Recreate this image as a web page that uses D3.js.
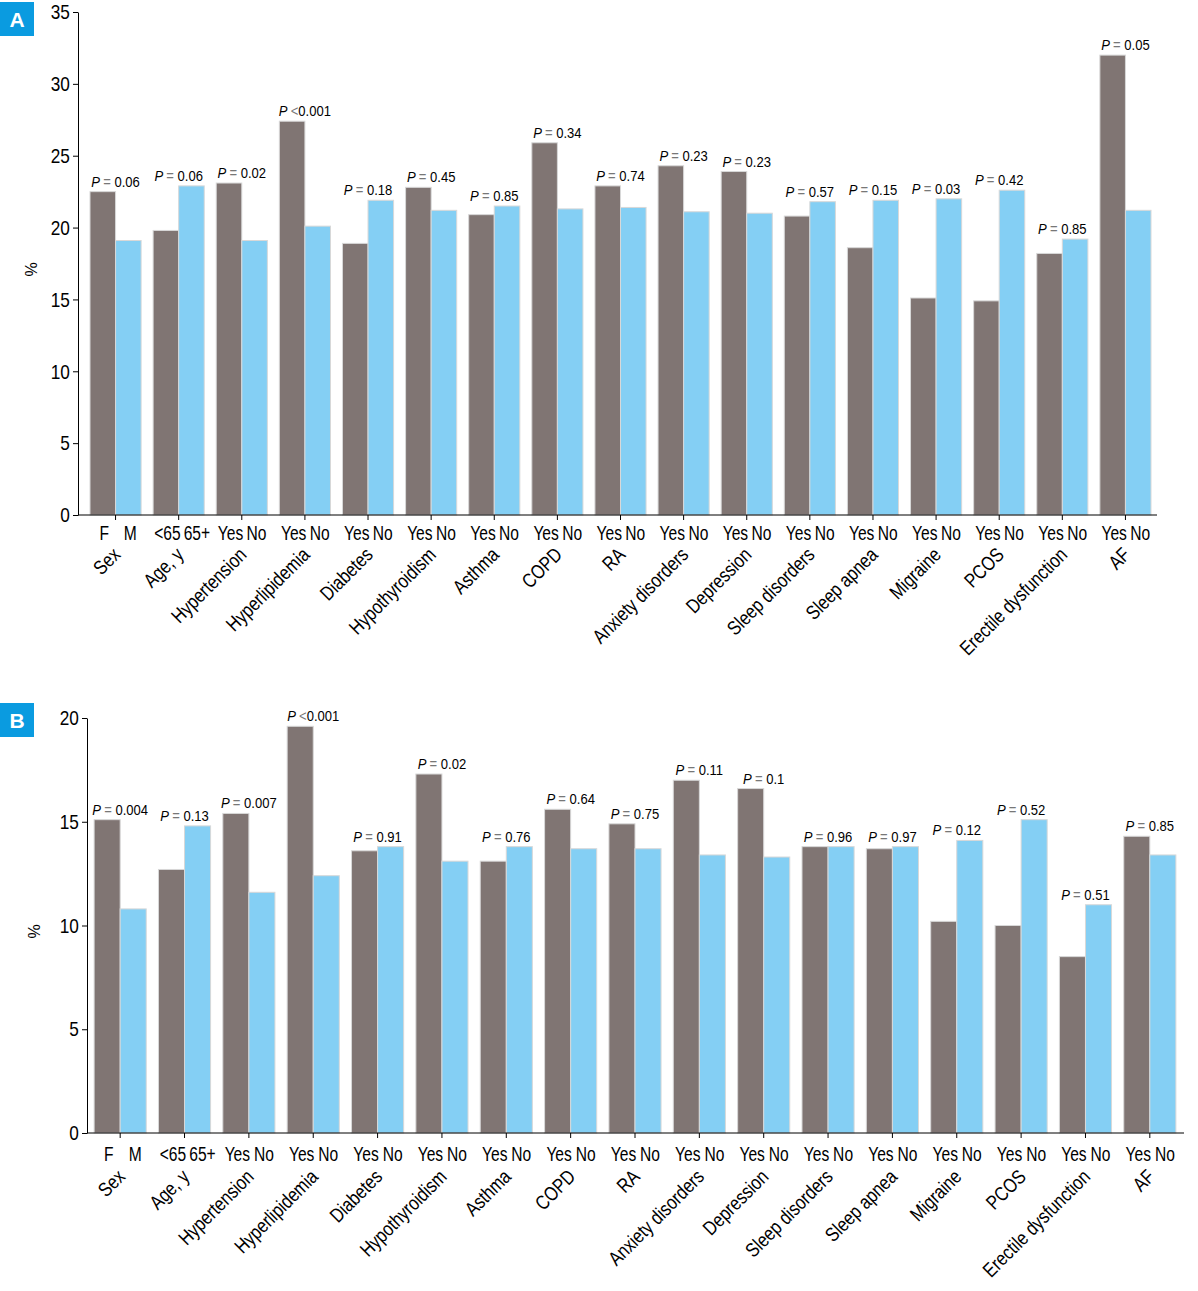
<!DOCTYPE html>
<html>
<head>
<meta charset="utf-8">
<script src="https://cdn.jsdelivr.net/npm/d3@7"></script>
<style>
  body { margin: 0; background: #fff; }
  svg { font-family: "Liberation Sans", Arial, sans-serif; }
  .axis text { font-size: 21px; fill: #000; }
  .axis path, .axis line { stroke: #000; }
</style>
</head>
<body>
<div id="chart"></div>
<script>
// categories and level labels (shared by both panels)
const categories = ["Sex", "Age, y", "Hypertension", "Hyperlipidemia", "Diabetes", "Hypothyroidism",
  "Asthma", "COPD", "RA", "Anxiety disorders", "Depression", "Sleep disorders", "Sleep apnea",
  "Migraine", "PCOS", "Erectile dysfunction", "AF"];
const levelsFirst  = ["F", "<65", "Yes", "Yes", "Yes", "Yes", "Yes", "Yes", "Yes", "Yes", "Yes", "Yes", "Yes", "Yes", "Yes", "Yes", "Yes"];
const levelsSecond = ["M", "65+", "No", "No", "No", "No", "No", "No", "No", "No", "No", "No", "No", "No", "No", "No", "No"];

// panel A
const valuesA1 = [22.5, 19.8, 23.1, 27.4, 18.9, 22.8, 20.9, 25.9, 22.9, 24.3, 23.9, 20.8, 18.6, 15.1, 14.9, 18.2, 32.0];
const valuesA2 = [19.1, 22.9, 19.1, 20.1, 21.9, 21.2, 21.5, 21.3, 21.4, 21.1, 21.0, 21.8, 21.9, 22.0, 22.6, 19.2, 21.2];
const pA = ["= 0.06", "= 0.06", "= 0.02", "<0.001", "= 0.18", "= 0.45", "= 0.85", "= 0.34", "= 0.74",
  "= 0.23", "= 0.23", "= 0.57", "= 0.15", "= 0.03", "= 0.42", "= 0.85", "= 0.05"];
const ticksA = [0, 5, 10, 15, 20, 25, 30, 35];

// panel B
const valuesB1 = [15.1, 12.7, 15.4, 19.6, 13.6, 17.3, 13.1, 15.6, 14.9, 17.0, 16.6, 13.8, 13.7, 10.2, 10.0, 8.5, 14.3];
const valuesB2 = [10.8, 14.8, 11.6, 12.4, 13.8, 13.1, 13.8, 13.7, 13.7, 13.4, 13.3, 13.8, 13.8, 14.1, 15.1, 11.0, 13.4];
const pB = ["= 0.004", "= 0.13", "= 0.007", "<0.001", "= 0.91", "= 0.02", "= 0.76", "= 0.64", "= 0.75",
  "= 0.11", "= 0.1", "= 0.96", "= 0.97", "= 0.12", "= 0.52", "= 0.51", "= 0.85"];
const ticksB = [0, 5, 10, 15, 20];

const colors = { a: "#807573", b: "#84cff4" };
const narrow = 0.82; // horizontal squeeze to mimic the condensed face

const svg = d3.select("#chart").append("svg")
    .attr("width", 1198)
    .attr("height", 1291);

function drawPanel(opt) {
    const g = svg.append("g");
    const v1 = opt.v1, v2 = opt.v2;

    const x = d3.scaleBand()
        .domain(categories)
        .range([opt.bandLeft, opt.right])
        .paddingInner(0.19)
        .paddingOuter(0.095);

    const xi = d3.scaleBand()
        .domain(["a", "b"])
        .range([0, x.bandwidth()]);

    const y = d3.scaleLinear()
        .domain([0, opt.max])
        .range([opt.bottom, opt.top]);

    const data = categories.map((c, i) => ({ cat: c, i: i, a: v1[i], b: v2[i], p: opt.p[i] }));

    // bars
    const grp = g.selectAll(".grp").data(data).join("g")
        .attr("class", "grp")
        .attr("transform", d => `translate(${x(d.cat)},0)`);

    grp.selectAll("rect")
        .data(d => [{ k: "a", v: d.a }, { k: "b", v: d.b }])
        .join("rect")
        .attr("x", d => xi(d.k))
        .attr("y", d => y(d.v))
        .attr("width", xi.bandwidth())
        .attr("height", d => y(0) - y(d.v))
        .attr("fill", d => colors[d.k])
        .attr("stroke", "#d8d8d8")
        .attr("stroke-width", 1);

    // P value labels
    const pl = grp.append("text")
        .attr("transform", d => `translate(${x.bandwidth() / 2},${y(Math.max(d.a, d.b)) - 5}) scale(0.9,1)`)
        .attr("text-anchor", "middle")
        .style("font-size", "14.5px");
    pl.append("tspan").attr("font-style", "italic").text("P ");
    pl.append("tspan").attr("fill", "#777").text(d => d.p[0]);
    pl.append("tspan").text(d => d.p.slice(1));

    // level labels under each bar; push the second one right if the two collide
    grp.each(function (d) {
        const cell = d3.select(this);
        const ax = xi("a") + xi.bandwidth() / 2 + 1.5;
        let bx = xi("b") + xi.bandwidth() / 2 + 2;
        const t1 = cell.append("text")
            .attr("text-anchor", "middle")
            .style("font-size", "19.5px")
            .text(levelsFirst[d.i]);
        const t2 = cell.append("text")
            .attr("text-anchor", "middle")
            .style("font-size", "19.5px")
            .text(levelsSecond[d.i]);
        const w1 = t1.node().getComputedTextLength() * 0.8;
        const w2 = t2.node().getComputedTextLength() * 0.8;
        const gap = (bx - w2 / 2) - (ax + w1 / 2);
        if (gap < 3) bx += 3 - gap;
        t1.attr("transform", `translate(${ax},${opt.levelY}) scale(0.8,1)`);
        t2.attr("transform", `translate(${bx},${opt.levelY}) scale(0.8,1)`);
    });

    // rotated category labels
    grp.append("text")
        .attr("text-anchor", "end")
        .attr("transform", `translate(${x.bandwidth() / 2 + 6},${opt.catY}) rotate(-45) scale(${narrow},1)`)
        .style("font-size", "20px")
        .text(d => d.cat);

    // y axis
    g.append("g")
        .attr("class", "axis")
        .attr("transform", `translate(${opt.left},0)`)
        .call(d3.axisLeft(y).tickValues(opt.ticks).tickSize(5).tickSizeOuter(0).tickPadding(5))
        .call(a => a.select(".domain").attr("stroke", opt.yAxisColor))
        .call(a => a.selectAll(".tick text").attr("transform", `scale(${narrow},1)`));

    // x axis
    const xa = g.append("g")
        .attr("class", "axis")
        .attr("transform", `translate(0,${opt.bottom})`)
        .call(d3.axisBottom(x).tickSize(5).tickSizeOuter(0).tickFormat(""));
    xa.select(".domain").remove();
    xa.append("line")
        .attr("x1", opt.left)
        .attr("x2", opt.axisEnd)
        .attr("stroke", "#000");

    // % label
    g.append("text")
        .attr("transform", `translate(${opt.pctX},${(opt.top + opt.bottom) / 2 + 6}) rotate(-90)`)
        .attr("text-anchor", "middle")
        .style("font-size", "16px")
        .text("%");

    // panel letter
    g.append("rect")
        .attr("x", 0).attr("y", opt.boxY)
        .attr("width", 34).attr("height", 34)
        .attr("fill", "#0a9be0");
    g.append("text")
        .attr("x", 17).attr("y", opt.boxY + 25)
        .attr("text-anchor", "middle")
        .attr("fill", "#fff")
        .style("font-size", "21px")
        .style("font-weight", "bold")
        .text(opt.letter);
}

drawPanel({
    letter: "A", boxY: 2, v1: valuesA1, v2: valuesA2, p: pA, ticks: ticksA, max: 35,
    left: 78, bandLeft: 84, right: 1157, axisEnd: 1157, top: 12, bottom: 515,
    levelY: 540, catY: 556, pctX: 37, yAxisColor: "#000"
});

drawPanel({
    letter: "B", boxY: 703, v1: valuesB1, v2: valuesB2, p: pB, ticks: ticksB, max: 20,
    left: 87, bandLeft: 88, right: 1182, axisEnd: 1184, top: 718, bottom: 1133,
    levelY: 1161, catY: 1178, pctX: 40, yAxisColor: "#666"
});
</script>
</body>
</html>
